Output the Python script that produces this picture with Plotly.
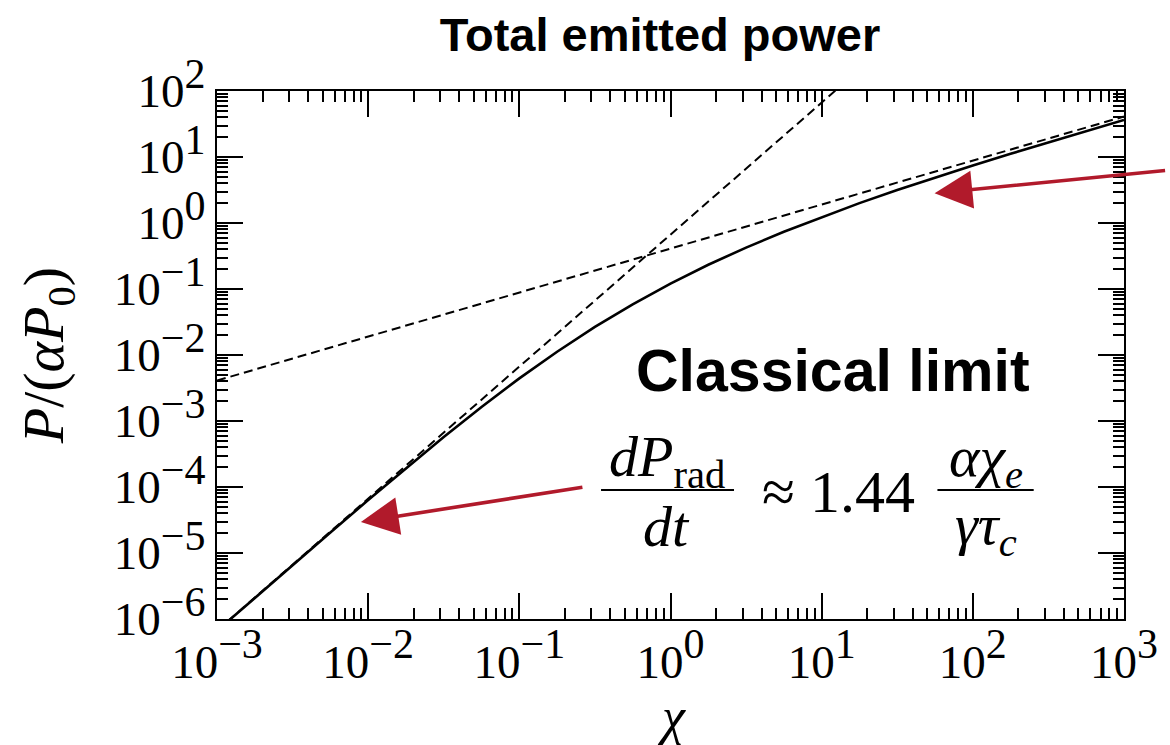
import plotly.graph_objects as go

# Total emitted power vs quantum parameter chi
chi_total = [1e-3, 1.778e-3, 3.162e-3, 5.623e-3, 1e-2, 1.778e-2, 3.162e-2, 5.623e-2,
             0.1, 0.1778, 0.3162, 0.5623, 1.0, 1.778, 3.162, 5.623, 10.0, 17.78,
             31.62, 56.23, 100.0, 177.8, 316.2, 562.3, 1000.0]
power_total = [6.63e-7, 2.09e-6, 6.55e-6, 2.05e-5, 6.33e-5, 1.92e-4, 5.71e-4, 1.63e-3,
               4.42e-3, 1.12e-2, 2.66e-2, 5.87e-2, 0.121, 0.233, 0.424, 0.737, 1.23, 2.00,
               3.16, 4.88, 7.43, 11.2, 16.6, 24.7, 36.4]

# Classical (chi^2) asymptote
chi_classical = [1e-3, 20.0]
power_classical = [6.67e-7, 267.0]

# Quantum (chi^(2/3)) asymptote
chi_quantum = [1e-3, 1e3]
power_quantum = [4.1e-3, 41.0]

x_major = [1e-3, 1e-2, 1e-1, 1e0, 1e1, 1e2, 1e3]
x_exps = ["−3", "−2", "−1", "0", "1", "2", "3"]
y_major = [1e-6, 1e-5, 1e-4, 1e-3, 1e-2, 1e-1, 1e0, 1e1, 1e2]
y_exps = ["−6", "−5", "−4", "−3", "−2", "−1", "0", "1", "2"]


def pow_label(e):
    return "10<sup><span style='font-size:42px'>" + e + "</span></sup>"


def minor_vals(lo, hi):
    vals = []
    for k in range(lo, hi):
        for m in range(2, 10):
            vals.append(m * 10.0 ** k)
    return vals


SERIF = "Liberation Serif"
SANS = "Liberation Sans"
RED = "#b11a2b"

# figure geometry (pixels)
FW, FH = 1170, 745
L, R, T, B = 217, 1131, 91, 619
PW, PH = R - L, B - T


def xp(px):
    return (px - L) / PW


def yp(py):
    return (B - py) / PH


fig = go.Figure()
fig.add_trace(go.Scatter(x=chi_classical, y=power_classical, mode="lines",
                         line=dict(color="black", width=2, dash="9px,5px"),
                         showlegend=False, hoverinfo="skip"))
fig.add_trace(go.Scatter(x=chi_quantum, y=power_quantum, mode="lines",
                         line=dict(color="black", width=2, dash="9px,5px"),
                         showlegend=False, hoverinfo="skip"))
fig.add_trace(go.Scatter(x=chi_total, y=power_total, mode="lines",
                         line=dict(color="black", width=2.6),
                         showlegend=False))

axis_common = dict(
    type="log", showgrid=False, zeroline=False,
    showline=True, linecolor="black", linewidth=2.4, mirror="ticks",
    ticks="inside", ticklen=26, tickwidth=2, tickcolor="black",
    tickfont=dict(family=SERIF, size=47, color="black"),
)

fig.update_xaxes(
    range=[-3, 3], tickmode="array", tickvals=x_major,
    ticktext=[pow_label(e) for e in x_exps],
    minor=dict(ticks="inside", ticklen=11, tickwidth=2, tickcolor="black",
               tickvals=minor_vals(-3, 3)),
    **axis_common,
)
fig.update_yaxes(
    range=[-6, 2], tickmode="array", tickvals=y_major,
    ticktext=[pow_label(e) for e in y_exps],
    minor=dict(ticks="inside", ticklen=11, tickwidth=2, tickcolor="black",
               tickvals=minor_vals(-6, 2)),
    **axis_common,
)

annotations = [
    # axis titles
    dict(text="<i>χ</i>", x=xp(675), y=yp(716), xref="paper", yref="paper",
         showarrow=False, font=dict(family=SERIF, size=52, color="black"),
         xanchor="center", yanchor="middle"),
    dict(text="<i>P</i>/(<i>αP</i><sub>0</sub>)", x=xp(46), y=yp(356),
         xref="paper", yref="paper", textangle=-90, showarrow=False,
         font=dict(family=SERIF, size=58, color="black"),
         xanchor="center", yanchor="middle"),
    # panel label
    dict(text="<b>Classical limit</b>", x=xp(838), y=yp(371), xref="paper", yref="paper",
         showarrow=False, font=dict(family=SANS, size=59, color="black"),
         xanchor="center", yanchor="middle"),
    # formula: dP_rad/dt ≈ 1.44 αχ_e/(γτ_c)
    dict(text="<i>dP</i><sub>rad</sub>", x=xp(670), y=yp(461), xref="paper", yref="paper",
         showarrow=False, font=dict(family=SERIF, size=58, color="black"),
         xanchor="center", yanchor="middle"),
    dict(text="<i>dt</i>", x=xp(670), y=yp(526), xref="paper", yref="paper",
         showarrow=False, font=dict(family=SERIF, size=58, color="black"),
         xanchor="center", yanchor="middle"),
    dict(text="≈ 1.44", x=xp(843), y=yp(492), xref="paper", yref="paper",
         showarrow=False, font=dict(family=SERIF, size=60, color="black"),
         xanchor="center", yanchor="middle"),
    dict(text="<i>αχ</i><sub><i>e</i></sub>", x=xp(992), y=yp(461), xref="paper", yref="paper",
         showarrow=False, font=dict(family=SERIF, size=58, color="black"),
         xanchor="center", yanchor="middle"),
    dict(text="<i>γτ</i><sub><i>c</i></sub>", x=xp(992), y=yp(528), xref="paper", yref="paper",
         showarrow=False, font=dict(family=SERIF, size=58, color="black"),
         xanchor="center", yanchor="middle"),
    # arrows pointing at the two regimes
    dict(text="", x=-2.048, y=-4.53, xref="x", yref="y", showarrow=True,
         ax=223, ay=-35, axref="pixel", ayref="pixel",
         arrowhead=2, arrowsize=2.1, arrowwidth=3.6, arrowcolor=RED),
    dict(text="", x=1.747, y=0.45, xref="x", yref="y", showarrow=True,
         ax=232, ay=-23, axref="pixel", ayref="pixel",
         arrowhead=2, arrowsize=2.1, arrowwidth=3.6, arrowcolor=RED),
]

shapes = [
    dict(type="line", xref="paper", yref="paper", x0=xp(604), x1=xp(738),
         y0=yp(490), y1=yp(490), line=dict(color="black", width=2.2)),
    dict(type="line", xref="paper", yref="paper", x0=xp(943), x1=xp(1040),
         y0=yp(490), y1=yp(490), line=dict(color="black", width=2.2)),
]

fig.update_layout(
    width=FW, height=FH,
    margin=dict(l=L, r=FW - R, t=T, b=FH - B, pad=0),
    paper_bgcolor="white", plot_bgcolor="white",
    title=dict(text="<b>Total emitted power</b>", x=660 / FW, xref="container",
               xanchor="center", y=1 - 35 / FH, yref="container", yanchor="middle",
               font=dict(family=SANS, size=47, color="black")),
    annotations=annotations,
    shapes=shapes,
)

fig.write_html("out.html")
